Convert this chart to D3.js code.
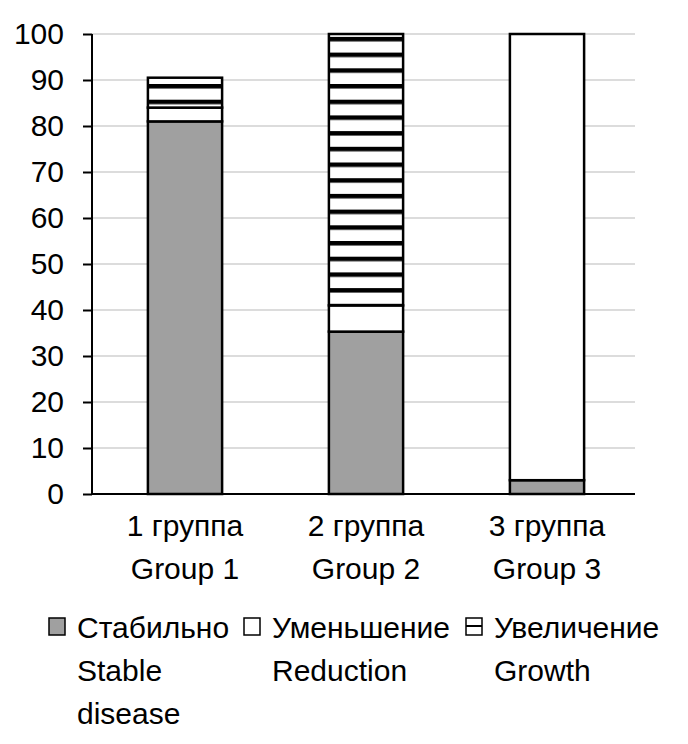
<!DOCTYPE html>
<html>
<head>
<meta charset="utf-8">
<script src="https://cdn.jsdelivr.net/npm/d3@7"></script>
<style>
  body { margin: 0; background: #fff; }
  svg text { font-family: "Liberation Sans", Arial, sans-serif; fill: #000; }
</style>
</head>
<body>
<div id="chart"></div>
<script>
const groups = ["1 группа|Group 1", "2 группа|Group 2", "3 группа|Group 3"];
const stable = [81, 35.3, 3];
const reduction = [3, 5.7, 97];
const growth = [6.5, 59, 0];
const yTicks = [0, 10, 20, 30, 40, 50, 60, 70, 80, 90, 100];
const legendNames = [["Стабильно", "Stable", "disease"], ["Уменьшение", "Reduction"], ["Увеличение", "Growth"]];

const width = 688, height = 744;
const margin = { top: 34, left: 92, right: 53, bottom: 250 };

const svg = d3.select("#chart").append("svg")
    .attr("width", width)
    .attr("height", height);

// horizontal stripes for "growth"
const defs = svg.append("defs");
const pat = defs.append("pattern")
    .attr("id", "stripes")
    .attr("patternUnits", "userSpaceOnUse")
    .attr("width", 10).attr("height", 15.7)
    .attr("y", 5.5);
pat.append("rect").attr("width", 10).attr("height", 15.7).attr("fill", "#fff");
pat.append("rect").attr("y", 0).attr("width", 10).attr("height", 4.5).attr("fill", "#000");

const x = d3.scaleBand()
    .domain(groups)
    .range([margin.left + 2.5, width - margin.right + 2.5])
    .paddingInner(0.59)
    .paddingOuter(0.295);

const y = d3.scaleLinear()
    .domain([0, 100])
    .range([height - margin.bottom, margin.top]);

// grid
svg.append("g")
    .selectAll("line")
    .data(yTicks.filter(d => d > 0))
    .enter().append("line")
    .attr("x1", margin.left).attr("x2", width - margin.right)
    .attr("y1", d => y(d)).attr("y2", d => y(d))
    .attr("stroke", "#dcdcdc").attr("stroke-width", 2);

const keys = ["stable", "reduction", "growth"];
const rows = groups.map((g, i) => ({ group: g, stable: stable[i], reduction: reduction[i], growth: growth[i] }));
const stacked = d3.stack().keys(keys)(rows);
const fills = { stable: "#a0a0a0", reduction: "#fff", growth: "url(#stripes)" };

svg.append("g")
    .selectAll("g")
    .data(stacked)
    .enter().append("g")
    .attr("fill", d => fills[d.key])
    .selectAll("rect")
    .data(d => d.filter(p => p[1] - p[0] > 0))
    .enter().append("rect")
    .attr("x", d => x(d.data.group))
    .attr("width", x.bandwidth())
    .attr("y", d => y(d[1]))
    .attr("height", d => y(d[0]) - y(d[1]))
    .attr("stroke", "#000")
    .attr("stroke-width", 2.5);

// y axis
const yAxis = svg.append("g")
    .attr("transform", `translate(${margin.left},0)`)
    .call(d3.axisLeft(y).tickValues(yTicks).tickSize(9).tickPadding(19));
yAxis.selectAll("path, line").attr("stroke", "#000").attr("stroke-width", 2);
yAxis.select(".domain").attr("d", `M0,${y(0)}V${y(100)}`);
yAxis.selectAll("text").attr("font-size", 30).style("font-family", null);

// x baseline
svg.append("line")
    .attr("x1", margin.left).attr("x2", width - margin.right)
    .attr("y1", y(0)).attr("y2", y(0))
    .attr("stroke", "#000").attr("stroke-width", 2);

// x labels
const xl = svg.append("g").selectAll("text")
    .data(groups)
    .enter().append("text")
    .attr("text-anchor", "middle")
    .attr("font-size", 30)
    .attr("x", d => x(d) + x.bandwidth() / 2)
    .attr("y", 536);
xl.each(function (d) {
    const parts = d.split("|");
    d3.select(this).selectAll("tspan").data(parts).enter().append("tspan")
        .attr("x", x(d) + x.bandwidth() / 2)
        .attr("dy", (p, i) => i === 0 ? 0 : 43)
        .text(p => p);
});

// legend
const legendX = [48, 243, 465];
const legendFill = ["#a0a0a0", "#fff", "url(#legstripe)"];
const lp = defs.append("pattern")
    .attr("id", "legstripe").attr("patternUnits", "userSpaceOnUse")
    .attr("width", 10).attr("height", 17).attr("y", 618);
lp.append("rect").attr("width", 10).attr("height", 17).attr("fill", "#fff");
lp.append("rect").attr("y", 7).attr("width", 10).attr("height", 2).attr("fill", "#000");

const lg = svg.append("g").selectAll("g")
    .data(legendNames)
    .enter().append("g")
    .attr("transform", (d, i) => `translate(${legendX[i]},0)`);
lg.append("rect")
    .attr("x", 1).attr("y", 618).attr("width", 16).attr("height", 17)
    .attr("fill", (d, i) => legendFill[i])
    .attr("stroke", "#000").attr("stroke-width", 1.5);
lg.append("text")
    .attr("font-size", 30)
    .selectAll("tspan")
    .data(d => d)
    .enter().append("tspan")
    .attr("x", 29)
    .attr("y", (d, i) => 638 + i * 43)
    .text(d => d);
</script>
</body>
</html>
